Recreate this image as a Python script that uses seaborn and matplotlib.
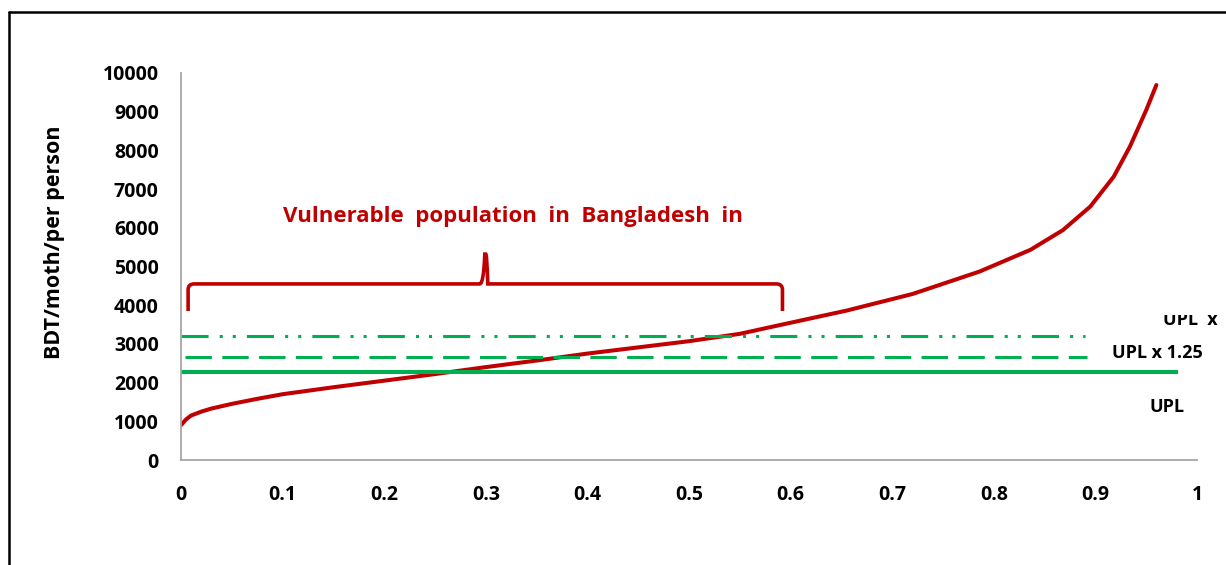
import numpy as np
import pandas as pd
import seaborn as sns
import matplotlib.pyplot as plt
from matplotlib.lines import Line2D
from matplotlib.path import Path
from matplotlib.patches import PathPatch, Rectangle

# curva de consumo per capita
share = [0, 0.005, 0.01, 0.02, 0.03, 0.05, 0.075, 0.1, 0.15, 0.2, 0.25, 0.3,
         0.35, 0.4, 0.45, 0.5, 0.55, 0.59, 0.655, 0.72, 0.786, 0.836, 0.868,
         0.895, 0.918, 0.934, 0.95, 0.96]
bdt = [900, 1050, 1150, 1250, 1330, 1450, 1580, 1700, 1880, 2050, 2220, 2400,
       2570, 2750, 2910, 3070, 3260, 3490, 3860, 4290, 4870, 5430, 5940,
       6550, 7320, 8100, 9040, 9690]

# linhas de pobreza
upl = 2270
upl_125 = 2660
upl_x = 3200
upl_end = 0.981
upl_125_end = 0.892
upl_x_end = 0.89

# chave "vulnerable population"
brace_x0, brace_x1, brace_mid = 0.007, 0.592, 0.3
brace_low, brace_y, brace_tip = 3850, 4550, 5320

RED = "#C00000"
GREEN = "#00B050"
GREY = "#A6A6A6"

sns.set_style("white")
plt.rcParams["font.family"] = ["Open Sans", "DejaVu Sans"]
plt.rcParams["font.weight"] = "bold"
plt.rcParams["text.color"] = "black"
plt.rcParams["axes.labelcolor"] = "black"
plt.rcParams["lines.scale_dashes"] = False

fig = plt.figure(figsize=(12.26, 5.65), dpi=100)
ax = fig.add_axes([181 / 1226, 105 / 565, 1016 / 1226, 387 / 565])

df = pd.DataFrame({"share": share, "bdt": bdt})
sns.lineplot(data=df, x="share", y="bdt", color=RED, linewidth=2.9, ax=ax)
ax.lines[-1].set_solid_joinstyle("round")

ax.hlines(upl, 0, upl_end, color=GREEN, linewidth=2.9)
ax.hlines(upl_125, 0.004, upl_125_end, color=GREEN, linewidth=2.2,
          linestyles=[(0, (19, 7.5))])
ax.hlines(upl_x, 0, upl_x_end, color=GREEN, linewidth=2.2,
          linestyles=[(0, (19.5, 8, 2.2, 7.2, 2.2, 8))])

# chave
r = 0.006
verts = [(brace_x0, brace_low), (brace_x0, brace_y - 150), (brace_x0, brace_y),
         (brace_x0 + r, brace_y),
         (brace_mid - r, brace_y), (brace_mid - 0.002, brace_y),
         (brace_mid - 0.001, brace_tip), (brace_mid, brace_tip),
         (brace_mid + 0.001, brace_tip), (brace_mid + 0.002, brace_y),
         (brace_mid + r, brace_y),
         (brace_x1 - r, brace_y), (brace_x1, brace_y), (brace_x1, brace_y - 150),
         (brace_x1, brace_low)]
codes = [Path.MOVETO, Path.LINETO, Path.CURVE3, Path.CURVE3,
         Path.LINETO, Path.CURVE3, Path.CURVE3, Path.LINETO,
         Path.CURVE3, Path.CURVE3, Path.CURVE3,
         Path.LINETO, Path.CURVE3, Path.CURVE3, Path.LINETO]
ax.add_patch(PathPatch(Path(verts, codes), facecolor="none", edgecolor=RED,
                       linewidth=2.6, capstyle="butt"))

ax.text(0.327, 6280, "Vulnerable  population  in  Bangladesh  in", color=RED,
        fontsize=16, fontweight="bold", ha="center", va="center")

# rótulos das linhas (o de cima sai cortado como no original)
t = fig.text(1190 / 1226, 1 - 320 / 565, "UPL  x", fontsize=13, fontweight="bold",
             ha="center", va="center", color="black")
clip = Rectangle((0, 0), 1, 1 - 315 / 565, transform=fig.transFigure)
t.set_clip_path(clip)
fig.text(1157 / 1226, 1 - 353 / 565, "UPL x 1.25", fontsize=13, fontweight="bold",
         ha="center", va="center", color="black")
fig.text(1167 / 1226, 1 - 407 / 565, "UPL", fontsize=13, fontweight="bold",
         ha="center", va="center", color="black")

ax.set_xlim(0, 1)
ax.set_ylim(0, 10000)
ax.set_xticks(np.arange(0, 1.01, 0.1))
ax.set_xticklabels(["0", "0.1", "0.2", "0.3", "0.4", "0.5", "0.6", "0.7",
                    "0.8", "0.9", "1"])
ax.set_yticks(np.arange(0, 10001, 1000))
ax.set_xlabel("")
ax.set_ylabel("BDT/moth/per person", fontsize=15.5, fontweight="bold",
              color="black")
ax.yaxis.set_label_coords(-0.114, 0.563)

for s in ["top", "right"]:
    ax.spines[s].set_visible(False)
for s in ["left", "bottom"]:
    ax.spines[s].set_color(GREY)
    ax.spines[s].set_linewidth(1.3)
ax.tick_params(axis="both", direction="out", length=5, width=1.1, color=GREY,
               labelcolor="black", labelsize=14, pad=11)
ax.tick_params(axis="x", pad=13)
for lab in ax.get_xticklabels() + ax.get_yticklabels():
    lab.set_fontweight("bold")

# moldura do gráfico (só esquerda e topo aparecem)
fig.add_artist(Line2D([9 / 1226, 9 / 1226], [0, 1 - 12 / 565], color="black",
                      linewidth=1.8, transform=fig.transFigure))
fig.add_artist(Line2D([9 / 1226, 1], [1 - 12 / 565, 1 - 12 / 565], color="black",
                      linewidth=1.8, transform=fig.transFigure))

fig.savefig("out.png", dpi=100)
